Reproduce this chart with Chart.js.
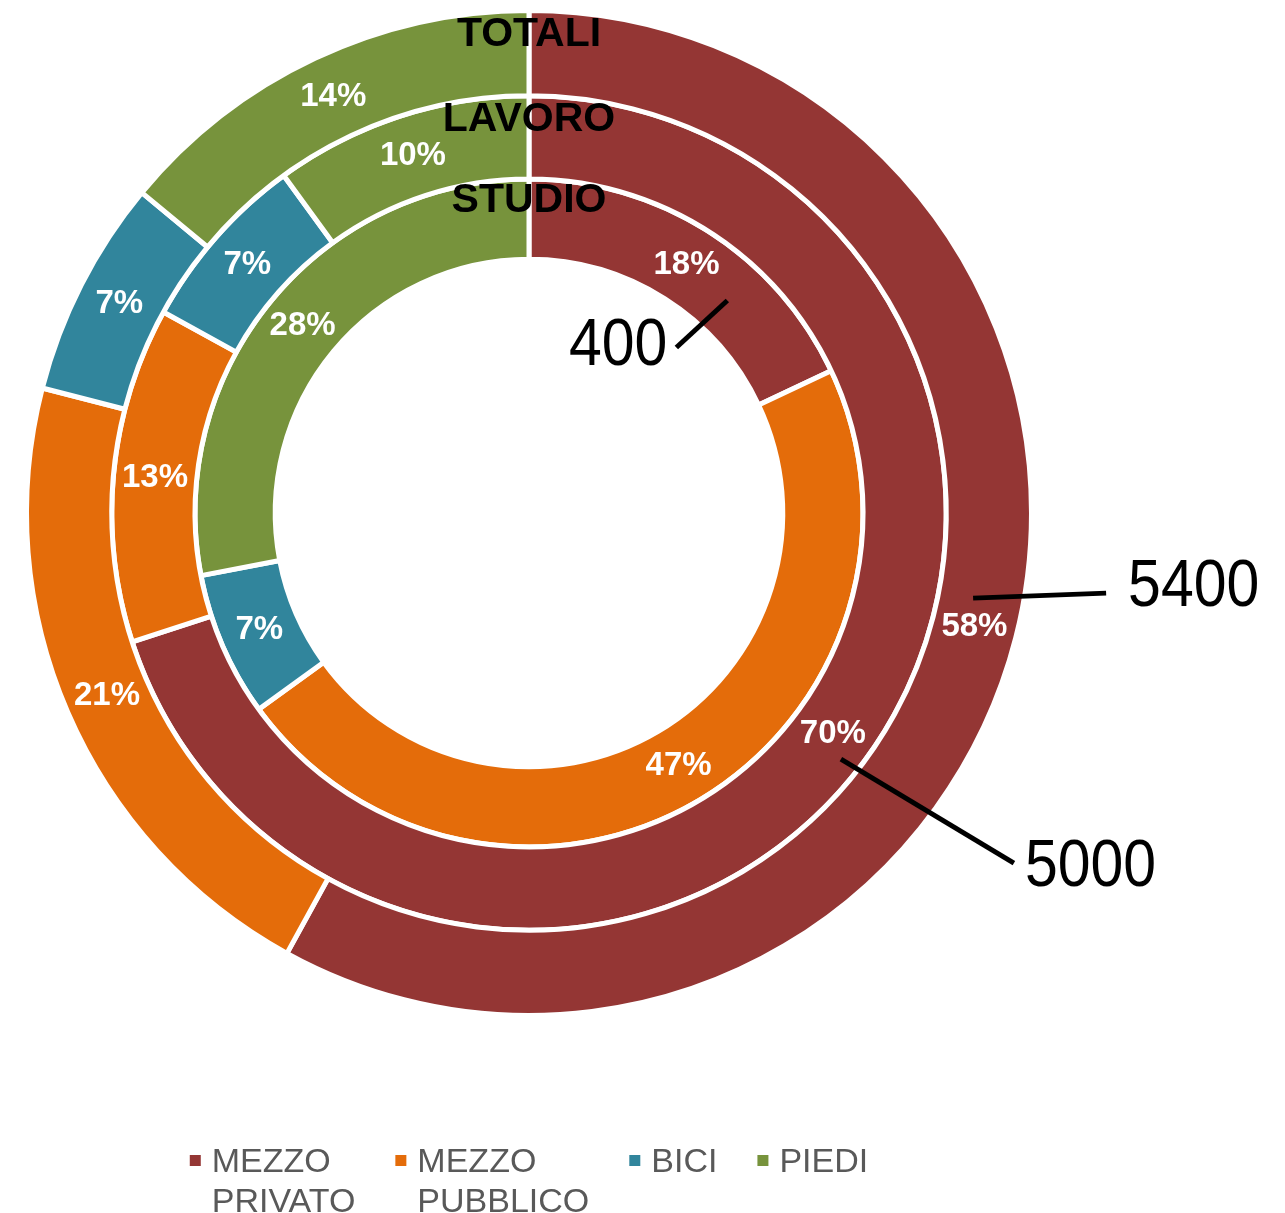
<!DOCTYPE html>
<html>
<head>
<meta charset="utf-8">
<script src="https://cdn.jsdelivr.net/npm/chart.js@4.4.0/dist/chart.umd.min.js"></script>
<style>
  html, body { margin: 0; padding: 0; background: #fff; }
  #wrap { position: relative; width: 1285px; height: 1213px; }
</style>
</head>
<body>
<div id="wrap"><canvas id="chart"></canvas></div>
<script>
// Data
const categories = ['MEZZO PRIVATO', 'MEZZO PUBBLICO', 'BICI', 'PIEDI'];
const legendLines = [['MEZZO', 'PRIVATO'], ['MEZZO', 'PUBBLICO'], ['BICI'], ['PIEDI']];
const ringNames = ['TOTALI', 'LAVORO', 'STUDIO'];
const totaliPct = [58, 21, 7, 14];
const lavoroPct = [70, 13, 7, 10];
const studioPct = [18, 47, 7, 28];
const ringCounts = [5400, 5000, 400];
const colors = ['#943634', '#E46C0A', '#31859C', '#77933C'];

const FONT = '"Liberation Sans", Arial, sans-serif';

// leader lines with the totals, anchored on the red arc of each ring
const callouts = [
    { ring: 0, t: 0.483, r: 0.41, dx: 133, dy: -5, tx: 22, ty: -6, align: 'left' },
    { ring: 1, t: 0.509, r: 0.76, dx: 173, dy: 104, tx: 11, ty: 4, align: 'left' },
    { ring: 2, t: 0.664, r: 0.46, dx: -51, dy: 47, tx: -9, ty: -1, align: 'right' }
];

const labelsPlugin = {
    id: 'ringLabels',
    afterDatasetsDraw(chart) {
        const ctx = chart.ctx;
        ctx.save();
        ctx.textAlign = 'center';
        ctx.textBaseline = 'middle';

        // percentages inside arcs
        ctx.fillStyle = '#fff';
        ctx.font = 'bold 33px ' + FONT;
        chart.data.datasets.forEach((ds, i) => {
            chart.getDatasetMeta(i).data.forEach((arc, j) => {
                const p = arc.tooltipPosition();
                ctx.fillText(ds.data[j] + '%', p.x, p.y);
            });
        });

        // ring names at the top
        ctx.fillStyle = '#000';
        ctx.font = 'bold 41px ' + FONT;
        chart.data.datasets.forEach((ds, i) => {
            const arc = chart.getDatasetMeta(i).data[0];
            const mid = (arc.innerRadius + arc.outerRadius) / 2;
            ctx.fillText(ds.label, arc.x, arc.y - mid - 18);
        });

        // callouts
        callouts.forEach(c => {
            const arc = chart.getDatasetMeta(c.ring).data[0];
            const a = arc.startAngle + c.t * (arc.endAngle - arc.startAngle);
            const rad = arc.innerRadius + c.r * (arc.outerRadius - arc.innerRadius);
            const x0 = arc.x + rad * Math.cos(a);
            const y0 = arc.y + rad * Math.sin(a);
            const x1 = x0 + c.dx, y1 = y0 + c.dy;
            ctx.strokeStyle = '#000';
            ctx.lineWidth = 5;
            ctx.beginPath();
            ctx.moveTo(x0, y0);
            ctx.lineTo(x1, y1);
            ctx.stroke();

            ctx.save();
            ctx.translate(x1 + c.tx, y1 + c.ty);
            ctx.scale(0.88, 1);
            ctx.font = '67px ' + FONT;
            ctx.textAlign = c.align;
            ctx.fillText(String(ringCounts[c.ring]), 0, 0);
            ctx.restore();
        });
        ctx.restore();
    },
    afterDraw(chart) {
        // legend at the bottom, centred under the doughnut
        const ctx = chart.ctx;
        const arc = chart.getDatasetMeta(0).data[0];
        ctx.save();
        ctx.font = '34px ' + FONT;
        ctx.textBaseline = 'alphabetic';
        ctx.textAlign = 'left';
        const widths = legendLines.map(lines => Math.max(...lines.map(l => ctx.measureText(l).width)));
        const box = 11, boxGap = 11, itemGap = 40;
        const total = widths.reduce((s, w) => s + box + boxGap + w, 0) + itemGap * (widths.length - 1);
        let x = arc.x - total / 2;
        legendLines.forEach((lines, i) => {
            ctx.fillStyle = colors[i];
            ctx.fillRect(x, 1155, box, box);
            ctx.fillStyle = '#595959';
            lines.forEach((l, k) => ctx.fillText(l, x + box + boxGap, 1172 + k * 40));
            x += box + boxGap + widths[i] + itemGap;
        });
        ctx.restore();
    }
};

const ringData = [totaliPct, lavoroPct, studioPct];
const ringWeights = [85, 83, 80];

new Chart(document.getElementById('chart'), {
    type: 'doughnut',
    data: {
        labels: categories,
        datasets: ringData.map((d, i) => ({
            label: ringNames[i],
            data: d,
            backgroundColor: colors,
            borderColor: '#fff',
            borderWidth: 5,
            weight: ringWeights[i]
        }))
    },
    options: {
        responsive: true,
        maintainAspectRatio: false,
        animation: false,
        events: [],
        cutout: '50.5%',
        layout: { padding: { left: 24, top: 8, right: 251, bottom: 195 } },
        plugins: {
            legend: { display: false },
            tooltip: { enabled: false }
        }
    },
    plugins: [labelsPlugin]
});
</script>
</body>
</html>
